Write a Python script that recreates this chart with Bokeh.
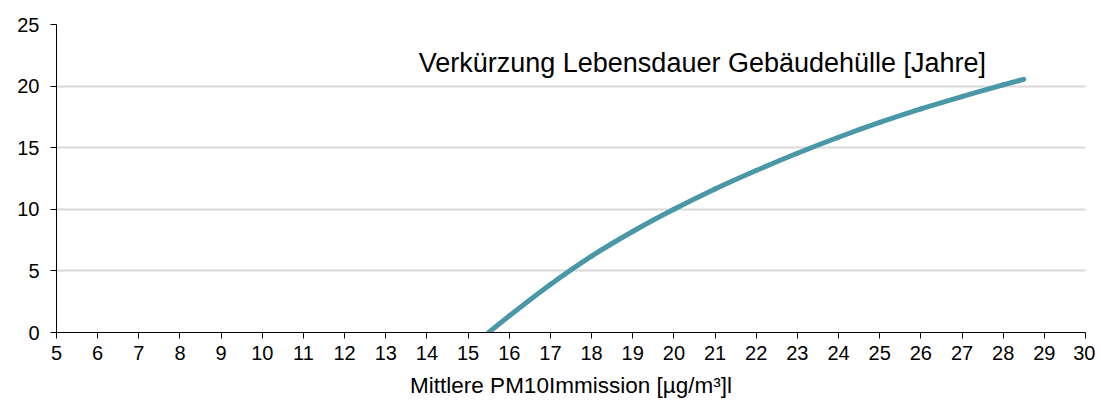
from bokeh.plotting import figure
from bokeh.models import Label, Range1d, FixedTicker
from bokeh.embed import file_html
from bokeh.resources import INLINE

# Data
pm10 = [15.5, 16, 17, 18, 19, 20, 21, 22, 23, 24, 25, 26, 27, 28, 28.5]
verkuerzung = [0.0, 1.35, 3.9, 6.2, 8.2, 10.0, 11.65, 13.15, 14.55, 15.85, 17.05, 18.15, 19.15, 20.1, 20.55]

x_ticks = list(range(5, 31))
y_ticks = [0, 5, 10, 15, 20, 25]

series_label = "Verkürzung Lebensdauer Gebäudehülle [Jahre]"
x_title = "Mittlere PM10Immission [µg/m³]l"

LABEL_X = 13.8
LABEL_Y = 21.85

FONT = "Liberation Sans"


def smooth_segments(xs, ys):
    """Catmull-Rom style smoothed segments (like a spreadsheet 'smoothed line')."""
    n = len(xs)
    px = [xs[0]] + list(xs) + [xs[-1]]
    py = [ys[0]] + list(ys) + [ys[-1]]
    seg = dict(x0=[], y0=[], x1=[], y1=[], cx0=[], cy0=[], cx1=[], cy1=[])
    for i in range(1, n):
        seg["x0"].append(px[i]); seg["y0"].append(py[i])
        seg["x1"].append(px[i + 1]); seg["y1"].append(py[i + 1])
        seg["cx0"].append(px[i] + (px[i + 1] - px[i - 1]) / 6)
        seg["cy0"].append(py[i] + (py[i + 1] - py[i - 1]) / 6)
        seg["cx1"].append(px[i + 1] - (px[i + 2] - px[i]) / 6)
        seg["cy1"].append(py[i + 1] - (py[i + 2] - py[i]) / 6)
    return seg


p = figure(width=1095, height=400, output_backend="svg", toolbar_location=None,
           x_range=Range1d(5, 30), y_range=Range1d(0, 25),
           min_border_left=56, min_border_right=10, min_border_top=24, min_border_bottom=68)
p.outline_line_color = None
p.background_fill_color = "white"
p.border_fill_color = "white"

p.xgrid.visible = False
p.ygrid.grid_line_color = "#d9d9d9"
p.ygrid.grid_line_width = 2

p.xaxis.ticker = FixedTicker(ticks=x_ticks)
p.yaxis.ticker = FixedTicker(ticks=y_ticks)
for ax in (p.xaxis[0], p.yaxis[0]):
    ax.axis_line_color = "#000000"
    ax.axis_line_width = 1
    ax.major_tick_line_color = "#000000"
    ax.major_tick_in = 0
    ax.minor_tick_line_color = None
    ax.major_label_text_font = FONT
    ax.major_label_text_color = "#000000"
    ax.major_label_text_font_size = "20px"

p.xaxis.major_tick_out = 6
p.yaxis.major_tick_out = 6
p.xaxis.major_label_standoff = 7
p.yaxis.major_label_standoff = 11

p.xaxis.axis_label = x_title
p.xaxis.axis_label_text_font = FONT
p.xaxis.axis_label_text_font_style = "normal"
p.xaxis.axis_label_text_font_size = "22.5px"
p.xaxis.axis_label_text_color = "#000000"
p.xaxis.axis_label_standoff = 10

seg = smooth_segments(pm10, verkuerzung)
p.bezier(x0="x0", y0="y0", x1="x1", y1="y1", cx0="cx0", cy0="cy0", cx1="cx1", cy1="cy1",
         source=seg, line_color="#4a97a8", line_width=5, line_cap="round")

p.add_layout(Label(x=LABEL_X, y=LABEL_Y, text=series_label, text_font=FONT,
                   text_font_size="27px", text_color="#000000",
                   text_baseline="alphabetic", text_align="left"))

open("out.html", "w").write(file_html(p, INLINE))
